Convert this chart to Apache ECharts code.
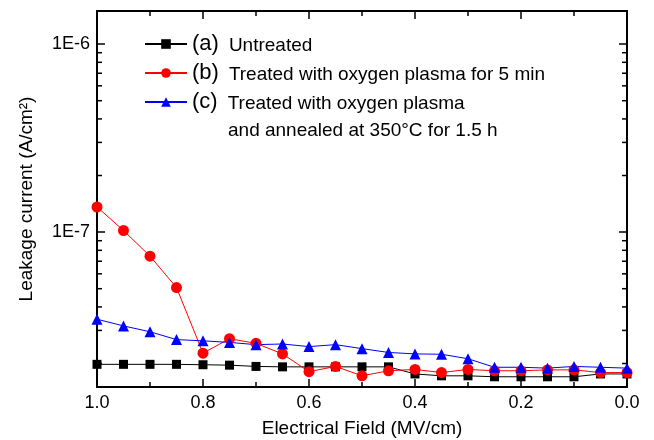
<!DOCTYPE html>
<html>
<head>
<meta charset="utf-8">
<script src="https://cdn.jsdelivr.net/npm/echarts@6/dist/echarts.min.js"></script>
<style>
  html, body { margin: 0; padding: 0; background: #fff; }
  #chart { width: 654px; height: 440px; }
</style>
</head>
<body>
<div id="chart"></div>
<script>
// ---- data ----
const fieldMVcm = [1.00, 0.95, 0.90, 0.85, 0.80, 0.75, 0.70, 0.65, 0.60, 0.55, 0.50,
                   0.45, 0.40, 0.35, 0.30, 0.25, 0.20, 0.15, 0.10, 0.05, 0.00];
const untreated = [1.98e-8, 1.98e-8, 1.98e-8, 1.98e-8, 1.97e-8, 1.96e-8, 1.93e-8, 1.92e-8, 1.92e-8, 1.92e-8, 1.92e-8,
                   1.92e-8, 1.76e-8, 1.72e-8, 1.72e-8, 1.70e-8, 1.70e-8, 1.70e-8, 1.70e-8, 1.76e-8, 1.76e-8];
const plasma5min = [1.36e-7, 1.02e-7, 7.45e-8, 5.07e-8, 2.27e-8, 2.71e-8, 2.56e-8, 2.25e-8, 1.81e-8, 1.93e-8, 1.72e-8,
                    1.83e-8, 1.86e-8, 1.79e-8, 1.86e-8, 1.83e-8, 1.83e-8, 1.85e-8, 1.85e-8, 1.79e-8, 1.79e-8];
const plasmaAnneal = [3.44e-8, 3.17e-8, 2.95e-8, 2.68e-8, 2.64e-8, 2.59e-8, 2.52e-8, 2.54e-8, 2.46e-8, 2.52e-8, 2.40e-8,
                      2.29e-8, 2.25e-8, 2.24e-8, 2.12e-8, 1.91e-8, 1.91e-8, 1.89e-8, 1.93e-8, 1.91e-8, 1.89e-8];
const seriesNames = ['(a) Untreated', '(b) Treated with oxygen plasma for 5 min', '(c) Treated with oxygen plasma'];
const legendTags = ['(a)', '(b)', '(c)'];
const legendTexts = ['Untreated', 'Treated with oxygen plasma for 5 min', 'Treated with oxygen plasma'];
const legendLine2 = 'and annealed at 350\u00B0C for 1.5 h';
const xTickValues = [0.0, 0.2, 0.4, 0.6, 0.8, 1.0];
const yMajorTicks = [1e-7, 1e-6];
const yMinorTicks = [2e-8, 3e-8, 4e-8, 5e-8, 6e-8, 7e-8, 8e-8, 9e-8,
                     2e-7, 3e-7, 4e-7, 5e-7, 6e-7, 7e-7, 8e-7, 9e-7];
const xName = 'Electrical Field (MV/cm)';
const yName = 'Leakage current (A/cm\u00B2)';

// ---- chart ----
const FONT = 'Liberation Sans';
const chart = echarts.init(document.getElementById('chart'), null, { renderer: 'canvas' });

function pairs(ys) { return fieldMVcm.map((x, i) => [x, ys[i]]); }

const axisLineStyle = { color: '#000', width: 2 };

function yLabel(v) {
  const l = Math.log10(v);
  for (const m of yMajorTicks) {
    if (Math.abs(Math.log10(m) - l) < 1e-6) return '1E' + Math.round(l);
  }
  return '';
}
function xLabel(v) {
  for (const t of xTickValues) {
    if (Math.abs(t - v) < 1e-6) return t.toFixed(1);
  }
  return '';
}

const xCommon = {
  type: 'value', min: 0, max: 1, interval: 0.2, inverse: true,
  axisLine: { show: true, onZero: false, lineStyle: axisLineStyle },
  axisTick: { show: true, inside: true, length: 8, lineStyle: { color: '#000', width: 1.5 } },
  minorTick: { show: true, splitNumber: 2, length: 5, lineStyle: { color: '#000', width: 1.5 } },
  splitLine: { show: false }, minorSplitLine: { show: false }
};
const yCommon = {
  type: 'log', logBase: 10, min: 1.5e-8, max: 1.5e-6,
  axisLine: { show: true, onZero: false, lineStyle: axisLineStyle },
  axisTick: { show: true, inside: true, length: 8, lineStyle: { color: '#000', width: 1.5 } },
  splitLine: { show: false }
};

const option = {
  backgroundColor: '#fff',
  animation: false,
  grid: { left: 97, right: 27, top: 11, bottom: 53, containLabel: false, outerBoundsMode: 'none' },
  xAxis: [
    Object.assign({}, xCommon, {
      position: 'bottom',
      name: xName, nameLocation: 'middle', nameGap: 32,
      nameTextStyle: { fontFamily: FONT, fontSize: 19, color: '#000' },
      axisLabel: { show: true, margin: 7, formatter: xLabel, fontFamily: FONT, fontSize: 18, color: '#000' }
    }),
    Object.assign({}, xCommon, { position: 'top', axisLabel: { show: false } })
  ],
  yAxis: [
    Object.assign({}, yCommon, {
      position: 'left',
      name: yName, nameLocation: 'middle', nameGap: 61, nameRotate: 90,
      nameTextStyle: { fontFamily: FONT, fontSize: 19, color: '#000' },
      axisLabel: { show: true, margin: 7, formatter: yLabel, fontFamily: FONT, fontSize: 18, color: '#000',
                   showMinLabel: false, showMaxLabel: false }
    }),
    Object.assign({}, yCommon, { position: 'right', axisLabel: { show: false } })
  ],
  legend: {
    data: seriesNames,
    orient: 'vertical', left: 144, top: 33, padding: 0, itemGap: 7,
    itemWidth: 42, itemHeight: 12,
    selectedMode: false,
    textStyle: { fontFamily: FONT, fontSize: 19, color: '#000',
      rich: {
        p: { fontFamily: FONT, fontSize: 22, color: '#000', verticalAlign: 'bottom' },
        t: { fontFamily: FONT, fontSize: 19, color: '#000', verticalAlign: 'bottom', padding: [0, 0, 0, 10] }
      }
    },
    formatter: function (name) {
      const i = seriesNames.indexOf(name);
      return '{p|' + legendTags[i] + '}{t|' + legendTexts[i] + '}';
    }
  },
  graphic: [{
    type: 'text', left: 228, top: 121, silent: true,
    style: { text: legendLine2, fontFamily: FONT, fontSize: 19, fill: '#000' }
  }],
  series: [
    {
      name: seriesNames[0], type: 'line', data: pairs(untreated),
      symbol: 'rect', symbolSize: 9,
      lineStyle: { color: '#000', width: 1 }, itemStyle: { color: '#000' }
    },
    {
      name: seriesNames[1], type: 'line', data: pairs(plasma5min),
      symbol: 'circle', symbolSize: 11,
      lineStyle: { color: '#ff0000', width: 1 }, itemStyle: { color: '#ff0000' }
    },
    {
      name: seriesNames[2], type: 'line', data: pairs(plasmaAnneal),
      symbol: 'triangle', symbolSize: 11,
      lineStyle: { color: '#0000ff', width: 1 }, itemStyle: { color: '#0000ff' }
    },
    {
      name: 'minorTicks', type: 'custom', silent: true, clip: false, z: 5,
      data: yMinorTicks.map(v => [1, v]),
      renderItem: function (params, api) {
        const y = api.value(1);
        const pl = api.coord([1, y]);
        const pr = api.coord([0, y]);
        const st = { stroke: '#000', lineWidth: 1.5 };
        return {
          type: 'group',
          children: [
            { type: 'line', shape: { x1: pl[0], y1: pl[1], x2: pl[0] + 5, y2: pl[1] }, style: st },
            { type: 'line', shape: { x1: pr[0], y1: pr[1], x2: pr[0] - 5, y2: pr[1] }, style: st }
          ]
        };
      }
    }
  ]
};
chart.setOption(option);
</script>
</body>
</html>
